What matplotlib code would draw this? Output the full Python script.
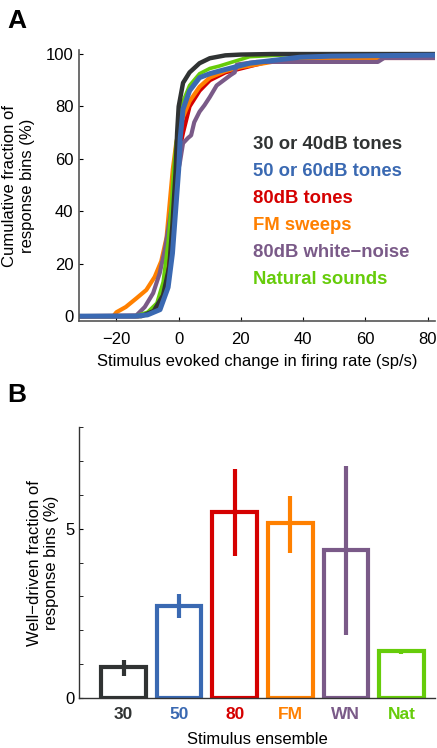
import numpy as np
import matplotlib
matplotlib.use("Agg")
from matplotlib import pyplot as plt
from matplotlib.ticker import MultipleLocator

plt.rcParams['font.family'] = ['Liberation Sans', 'DejaVu Sans']

# colours for each stimulus ensemble
c_black = '#303333'
c_blue = '#3a69b2'
c_red = '#d50000'
c_orange = '#ff8000'
c_purple = '#7a5a88'
c_green = '#66cc0a'

# panel A: cumulative curves (x in sp/s, y in %)
black_x = [-32, -12, -8, -5, -3, -2, -1, -0.5, 0, 1.4, 3.5, 6.7, 10, 15, 20, 30, 82]
black_y = [0, 0, 2, 8, 19, 35, 55, 70, 80, 89, 93, 96.5, 98.4, 99.5, 99.8, 100, 100]

blue_x = [-32, -14, -10, -6, -3.4, -2, -1, 0, 0.5, 1.4, 3.5, 6.7, 10, 13, 22.8, 39, 49, 82]
blue_y = [0, 0, 0.5, 2.5, 11, 24, 40, 56, 68, 79, 86, 91, 92.5, 93.5, 96.5, 98.8, 99.2, 99.6]

green_x = [-32, -14, -10, -7, -5, -3.4, -2.3, -1.6, -0.8, 0, 1.4, 3.5, 6.7, 10, 13, 22.8, 39, 82]
green_y = [0, 0, 1.5, 5, 13, 28, 43, 56, 66, 73, 82, 88, 92.5, 94.5, 95.4, 99, 100, 100]

orange_x = [-32, -21, -20, -17, -13.6, -10.4, -7.7, -5.6, -3.9, -2.9, -1.9, -0.8, 0.3, 1.4,
            3.5, 6.7, 10, 15, 20, 30, 50, 65, 66, 82]
orange_y = [0, 0, 1.5, 3.5, 6.8, 10, 15, 21, 30, 43, 56, 66, 72, 76,
            82, 87.5, 91, 93.5, 95, 97, 98, 98.3, 99.5, 99.5]

red_x = [-32, -13, -10, -7, -5, -3, -1.5, 0, 1.4, 3.5, 6.7, 10, 15, 20, 25, 30, 40, 82]
red_y = [0, 0, 1, 3.5, 9, 22, 45, 62, 70, 80, 86, 90, 93, 94.5, 96, 97.5, 98.5, 98.5]

purple_x = [-32, -13.6, -10.9, -8.2, -6.1, -4.5, -2.9, -1.3, -0.3, 0.3, 1.4, 3, 4, 5, 6.7,
            8.3, 10, 12.2, 16.7, 18, 18.7, 25, 64, 66, 82]
purple_y = [0, 0.3, 3.5, 8.8, 16.4, 25, 36.6, 49, 55, 58, 66, 68, 69, 74, 78,
            80.5, 83.6, 88, 92, 93, 96, 97, 97, 98.5, 98.5]

legend_names = ['30 or 40dB tones', '50 or 60dB tones', '80dB tones',
                'FM sweeps', '80dB white\u2212noise', 'Natural sounds']

# panel B: well-driven fraction (%) with error bar ends
ens_labels = ['30', '50', '80', 'FM', 'WN', 'Nat']
frac = [0.92, 2.71, 5.49, 5.16, 4.37, 1.40]
err_lo = [0.64, 2.35, 4.19, 4.29, 1.87, 1.31]
err_hi = [1.11, 3.06, 6.75, 5.97, 6.85, 1.45]

fs = 12

fig = plt.figure(figsize=(4.37, 7.48), dpi=100)

# ---------------- panel A ----------------
ax1 = fig.add_axes([0.181, 0.571, 0.814, 0.362])
curves = [(red_x, red_y, c_red, 3.0),
          (orange_x, orange_y, c_orange, 3.0),
          (purple_x, purple_y, c_purple, 3.0),
          (green_x, green_y, c_green, 2.6),
          (black_x, black_y, c_black, 3.2),
          (blue_x, blue_y, c_blue, 3.6)]
for xs, ys, col, lw in curves:
    ax1.plot(xs, ys, color=col, lw=lw, solid_joinstyle='round')

ax1.set_xlim(-32, 82.3)
ax1.set_ylim(-1.8, 101.5)
ax1.set_xticks([-20, 0, 20, 40, 60, 80])
ax1.set_yticks([0, 20, 40, 60, 80, 100])
ax1.spines['top'].set_visible(False)
ax1.spines['right'].set_visible(False)
for s in ('left', 'bottom'):
    ax1.spines[s].set_color('#555555')
    ax1.spines[s].set_linewidth(1.2)
ax1.tick_params(axis='y', direction='in', length=3, labelsize=fs, pad=4)
ax1.tick_params(axis='x', direction='in', length=3, labelsize=fs, pad=8.3)
ax1.set_xlabel('Stimulus evoked change in firing rate (sp/s)', fontsize=fs, labelpad=4.5)
ax1.set_ylabel('Cumulative fraction of\nresponse bins (%)', fontsize=fs, labelpad=8)

leg_cols = [c_black, c_blue, c_red, c_orange, c_purple, c_green]
for i, (name, col) in enumerate(zip(legend_names, leg_cols)):
    ax1.text(0.49, 0.65 - i * 0.0995, name, transform=ax1.transAxes, color=col,
             fontsize=13.3, fontweight='bold', va='center', ha='left')

fig.text(0.016, 0.988, 'A', fontsize=19, fontweight='bold', va='top')

# ---------------- panel B ----------------
ax2 = fig.add_axes([0.181, 0.0668, 0.814, 0.3622])
pos = np.arange(1, len(frac) + 1)
ax2.bar(pos, frac, width=0.8, fill=False, edgecolor=leg_cols, linewidth=3)
for p, lo, hi, col in zip(pos, err_lo, err_hi, leg_cols):
    ax2.plot([p, p], [lo, hi], color=col, lw=3, solid_capstyle='butt')

ax2.set_xlim(0.2, 6.6)
ax2.set_ylim(0, 8)
ax2.set_yticks([0, 5])
ax2.yaxis.set_minor_locator(MultipleLocator(1))
ax2.set_xticks(pos)
ax2.set_xticklabels(ens_labels, fontweight='bold', fontsize=12.5)
for lab, col in zip(ax2.get_xticklabels(), leg_cols):
    lab.set_color(col)
ax2.spines['top'].set_visible(False)
ax2.spines['right'].set_visible(False)
for s in ('left', 'bottom'):
    ax2.spines[s].set_color('#333333')
    ax2.spines[s].set_linewidth(1.0)
ax2.tick_params(axis='y', which='both', direction='in', length=3, labelsize=fs)
ax2.tick_params(axis='x', length=0, pad=6.5)
ax2.set_xlabel('Stimulus ensemble', fontsize=fs, labelpad=7.5)
ax2.set_ylabel('Well\u2212driven fraction of\nresponse bins (%)', fontsize=fs, labelpad=4)

fig.text(0.016, 0.488, 'B', fontsize=19, fontweight='bold', va='top')

fig.savefig('out.png', dpi=100)
